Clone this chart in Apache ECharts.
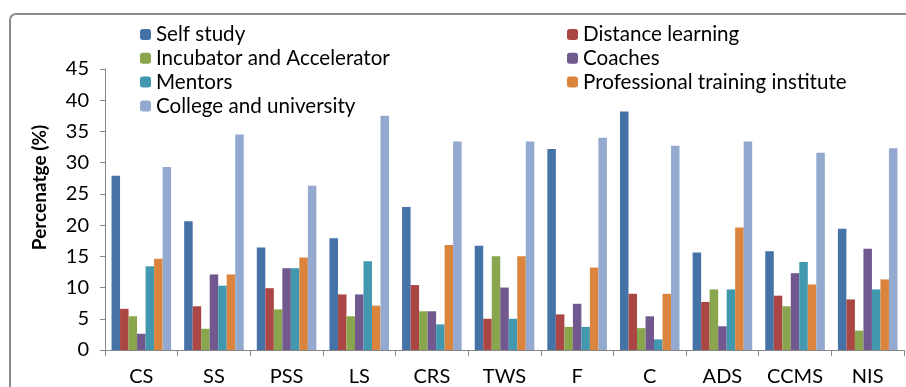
<!DOCTYPE html>
<html>
<head>
<meta charset="utf-8">
<script src="https://cdn.jsdelivr.net/npm/echarts@6/dist/echarts.min.js"></script>
<style>
  html, body { margin: 0; padding: 0; background: #fff; }
  #chart { width: 906px; height: 387px; }
</style>
</head>
<body>
<div id="chart"></div>
<script>
// Source categories along the x axis
const categories = ['CS', 'SS', 'PSS', 'LS', 'CRS', 'TWS', 'F', 'C', 'ADS', 'CCMS', 'NIS'];

// Percentage of respondents per learning source
const selfStudy        = [27.9, 20.6, 16.4, 17.9, 22.9, 16.7, 32.2, 38.2, 15.6, 15.8, 19.4];
const distanceLearning = [6.6, 7.0, 9.9, 8.9, 10.4, 5.0, 5.7, 9.0, 7.7, 8.7, 8.1];
const incubator        = [5.4, 3.4, 6.5, 5.4, 6.2, 15.0, 3.7, 3.5, 9.7, 7.0, 3.1];
const coaches          = [2.6, 12.1, 13.1, 8.9, 6.2, 10.0, 7.4, 5.4, 3.8, 12.3, 16.2];
const mentors          = [13.4, 10.3, 13.1, 14.2, 4.1, 5.0, 3.7, 1.7, 9.7, 14.1, 9.7];
const profTraining     = [14.6, 12.1, 14.8, 7.1, 16.8, 15.0, 13.2, 9.0, 19.6, 10.5, 11.3];
const college          = [29.3, 34.5, 26.3, 37.5, 33.4, 33.4, 34.0, 32.7, 33.4, 31.6, 32.3];

// Y axis ticks
const yTicks = { min: 0, max: 45, interval: 5 };

const seriesDefs = [
  { name: 'Self study', data: selfStudy, color: '#4572A7' },
  { name: 'Distance learning', data: distanceLearning, color: '#AA4643' },
  { name: 'Incubator and Accelerator', data: incubator, color: '#89A54E' },
  { name: 'Coaches', data: coaches, color: '#71588F' },
  { name: 'Mentors', data: mentors, color: '#4198AF' },
  { name: 'Professional training institute', data: profTraining, color: '#DB843D' },
  { name: 'College and university', data: college, color: '#93A9CF' }
];

const FONT = 'Lato';
const legendText = { fontFamily: FONT, fontSize: 20.6, color: '#000', lineHeight: 20 };

const chart = echarts.init(document.getElementById('chart'), null, { renderer: 'canvas' });

chart.setOption({
  animation: false,
  backgroundColor: '#fff',
  graphic: [{
    type: 'rect',
    shape: { x: 10, y: 14, width: 1000, height: 500, r: 6 },
    style: { fill: 'none', stroke: '#8c8c8c', lineWidth: 2 },
    silent: true
  }],
  legend: [
    {
      orient: 'vertical',
      left: 140, top: 24,
      itemWidth: 11, itemHeight: 11, itemGap: 2.8,
      padding: 0,
      textStyle: legendText,
      data: ['Self study', 'Incubator and Accelerator', 'Mentors', 'College and university']
    },
    {
      orient: 'vertical',
      left: 567, top: 24,
      itemWidth: 11, itemHeight: 11, itemGap: 2.8,
      padding: 0,
      textStyle: legendText,
      data: ['Distance learning', 'Coaches', 'Professional training institute']
    }
  ],
  grid: { left: 105, right: 2, top: 69, bottom: 37, containLabel: false },
  xAxis: {
    type: 'category',
    data: categories,
    axisLine: { lineStyle: { color: '#868686', width: 1 } },
    axisTick: { show: true, length: 6, lineStyle: { color: '#868686' } },
    axisLabel: { fontFamily: FONT, fontSize: 20, color: '#000', margin: 17 }
  },
  yAxis: {
    type: 'value',
    min: yTicks.min, max: yTicks.max, interval: yTicks.interval,
    name: 'Percenatge (%)',
    nameLocation: 'middle',
    nameRotate: 90,
    nameGap: 56,
    nameTextStyle: {
      fontFamily: FONT, fontSize: 19, fontWeight: 'bold', color: '#000',
      padding: [0, 0, 0, 44]
    },
    axisLine: { show: true, lineStyle: { color: '#868686', width: 1 } },
    axisTick: { show: true, length: 5, lineStyle: { color: '#868686' } },
    splitLine: { show: false },
    axisLabel: { fontFamily: FONT, fontSize: 20, color: '#000', margin: 16 }
  },
  series: seriesDefs.map(s => ({
    name: s.name,
    type: 'bar',
    data: s.data,
    barGap: '0%',
    barCategoryGap: '18%',
    itemStyle: { color: s.color }
  }))
});
</script>
</body>
</html>
